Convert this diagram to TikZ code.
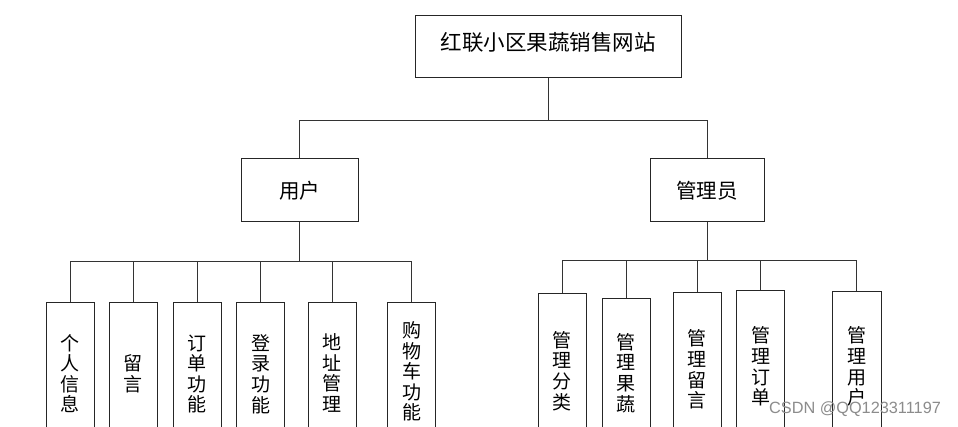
\documentclass[tikz,border=0pt]{standalone}
\usepackage{fontspec}
\newfontfamily\cjk{Noto Sans CJK SC}
\newfontfamily\wm{Liberation Sans}
\begin{document}
\begin{tikzpicture}[x=1pt,y=-1pt,
  box/.style={draw=black!85,line width=1pt,rectangle,inner sep=0pt,fill=white},
  hbox/.style={box,font=\cjk\fontsize{20.5}{22}\selectfont},
  vbox/.style={box,anchor=north,minimum width=48,align=center,
    font=\cjk\fontsize{19}{20.6}\selectfont},
  conn/.style={draw=black!80,line width=1pt},
  plain/.style={inner sep=0pt,font=\cjk\fontsize{21.5}{23}\selectfont}]
\clip (0,0) rectangle (958,427);
\fill[white] (0,0) rectangle (958,427);
% top
\node[box,minimum width=266,minimum height=62] (top) at (548,47) {};
\node[plain] (toptext) at (548,42) {红联小区果蔬销售网站};
\node[hbox,minimum width=117,minimum height=63] (user) at (299.5,190.5) {用户};
\node[hbox,minimum width=114,minimum height=63] (admin) at (707,190.5) {管理员};
% user children
\node[vbox,minimum height=142] (u1) at (70,302) {个\\人\\信\\息};
\node[vbox,minimum height=142] (u2) at (133,302) {留\\言};
\node[vbox,minimum height=143] (u3) at (197,302) {订\\单\\功\\能};
\node[vbox,minimum height=143] (u4) at (260.5,302) {登\\录\\功\\能};
\node[vbox,minimum height=141] (u5) at (332,302) {地\\址\\管\\理};
\node[vbox,minimum height=138] (u6) at (411.5,302) {购\\物\\车\\功\\能};
% admin children
\node[vbox,minimum height=155] (a1) at (562,293) {管\\理\\分\\类};
\node[vbox,minimum height=149] (a2) at (626,298) {管\\理\\果\\蔬};
\node[vbox,minimum height=154] (a3) at (697,292) {管\\理\\留\\言};
\node[vbox,minimum height=152] (a4) at (760.5,290) {管\\理\\订\\单};
\node[vbox,minimum height=150,minimum width=49] (a5) at (856.5,291) {管\\理\\用\\户};
% connectors
\draw[conn] (top.south) -- ++(0,42) coordinate (tb);
\draw[conn] (tb) -| (user.north);
\draw[conn] (tb) -| (admin.north);
\draw[conn] (user.south) -- ++(0,39.5) coordinate (ub);
\foreach \c in {u1,u2,u3,u4,u5,u6} \draw[conn] (ub) -| (\c.north);
\draw[conn] (admin.south) -- ++(0,38) coordinate (ab);
\foreach \c in {a1,a2,a3,a4,a5} \draw[conn] (ab) -| (\c.north);
% watermark
\node[inner sep=0pt,text=black!45,font=\wm\fontsize{16.3}{18}\selectfont] (wmark) at (855,409) {CSDN @QQ123311197};
\end{tikzpicture}
\end{document}
